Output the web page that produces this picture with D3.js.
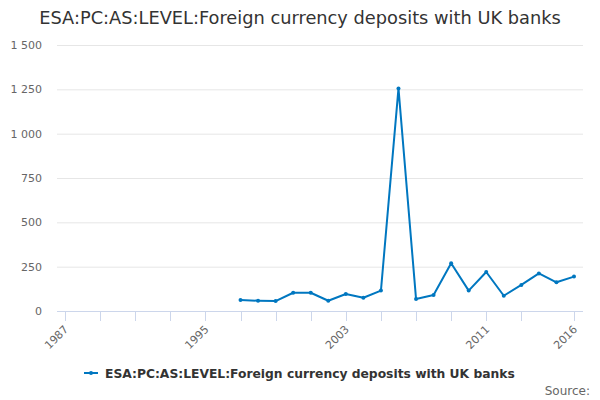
<!DOCTYPE html>
<html>
<head>
<meta charset="utf-8">
<script src="https://cdn.jsdelivr.net/npm/d3@7"></script>
<style>
  body { margin: 0; background: #fff; }
  svg { font-family: "DejaVu Sans", sans-serif; }
</style>
</head>
<body>
<div id="chart"></div>
<script>
const width = 600;
const height = 400;

const seriesName = "ESA:PC:AS:LEVEL:Foreign currency deposits with UK banks";
const years = [1997, 1998, 1999, 2000, 2001, 2002, 2003, 2004, 2005, 2006,
  2007, 2008, 2009, 2010, 2011, 2012, 2013, 2014, 2015, 2016];
const values = [62, 58, 56, 103, 103, 58, 96, 75, 115, 1255,
  68, 90, 269, 115, 220, 86, 147, 212, 162, 194];
const yTicks = [0, 250, 500, 750, 1000, 1250, 1500];
const xTicks = [1987, 1989, 1991, 1993, 1995, 1997, 1999, 2001, 2003, 2005,
  2007, 2009, 2011, 2013, 2016];
const xLabels = [1987, 1995, 2003, 2011, 2016];

const plot = { left: 57, right: 583, top: 45, bottom: 311 };

const svg = d3.select("#chart").append("svg").attr("width", width).attr("height", height);

const x = d3.scaleLinear().domain([1987, 2016]).range([65, 574]);
const y = d3.scaleLinear().domain([0, 1500]).range([plot.bottom, plot.top]);

const fmt = (d) => d3.format(",")(d).replace(/,/g, " ");

// Title
svg.append("text")
  .attr("x", width / 2)
  .attr("y", 24)
  .attr("text-anchor", "middle")
  .attr("fill", "#333")
  .style("font-size", "17.8px")
  .text(seriesName);

// Grid + y labels
svg.append("g")
  .selectAll("line")
  .data(yTicks.filter((d) => d > 0))
  .join("line")
  .attr("x1", plot.left)
  .attr("x2", plot.right)
  .attr("y1", (d) => y(d) + 0.5)
  .attr("y2", (d) => y(d) + 0.5)
  .attr("stroke", "#e6e6e6");

svg.append("g")
  .selectAll("text")
  .data(yTicks)
  .join("text")
  .attr("x", 42)
  .attr("y", (d) => y(d) + 4)
  .attr("text-anchor", "end")
  .attr("fill", "#666")
  .style("font-size", "11px")
  .text(fmt);

// X axis
const xAxis = svg.append("g");
xAxis.append("line")
  .attr("x1", plot.left)
  .attr("x2", plot.right)
  .attr("y1", plot.bottom + 0.5)
  .attr("y2", plot.bottom + 0.5)
  .attr("stroke", "#ccd6eb");

xAxis.selectAll(".tick")
  .data(xTicks)
  .join("line")
  .attr("class", "tick")
  .attr("x1", (d) => Math.round(x(d)) + 0.5)
  .attr("x2", (d) => Math.round(x(d)) + 0.5)
  .attr("y1", plot.bottom)
  .attr("y2", plot.bottom + 10)
  .attr("stroke", "#ccd6eb");

xAxis.selectAll(".lbl")
  .data(xLabels)
  .join("text")
  .attr("class", "lbl")
  .attr("transform", (d) => `translate(${x(d) + 4},${plot.bottom + 19}) rotate(-45)`)
  .attr("text-anchor", "end")
  .attr("fill", "#666")
  .style("font-size", "11px")
  .text((d) => d);

// Line
const data = years.map((yr, i) => ({ yr, v: values[i] }));
const line = d3.line().x((d) => x(d.yr)).y((d) => y(d.v));

svg.append("path")
  .datum(data)
  .attr("d", line)
  .attr("fill", "none")
  .attr("stroke", "#0077c0")
  .attr("stroke-width", 2)
  .attr("stroke-linejoin", "round");

svg.append("g")
  .selectAll("circle")
  .data(data)
  .join("circle")
  .attr("cx", (d) => x(d.yr))
  .attr("cy", (d) => y(d.v))
  .attr("r", 2)
  .attr("fill", "#0077c0");

// Legend
const legend = svg.append("g").attr("transform", "translate(84,373)");
legend.append("line")
  .attr("x1", 0).attr("x2", 14)
  .attr("y1", 0).attr("y2", 0)
  .attr("stroke", "#0077c0").attr("stroke-width", 2);
legend.append("circle").attr("cx", 7).attr("cy", 0).attr("r", 2).attr("fill", "#0077c0");
legend.append("text")
  .attr("x", 21)
  .attr("y", 4.5)
  .attr("fill", "#333")
  .style("font-size", "12.3px")
  .style("font-weight", "bold")
  .text(seriesName);

// Source
svg.append("text")
  .attr("x", 590)
  .attr("y", 395)
  .attr("text-anchor", "end")
  .attr("fill", "#666")
  .style("font-size", "12px")
  .text("Source:");
</script>
</body>
</html>
